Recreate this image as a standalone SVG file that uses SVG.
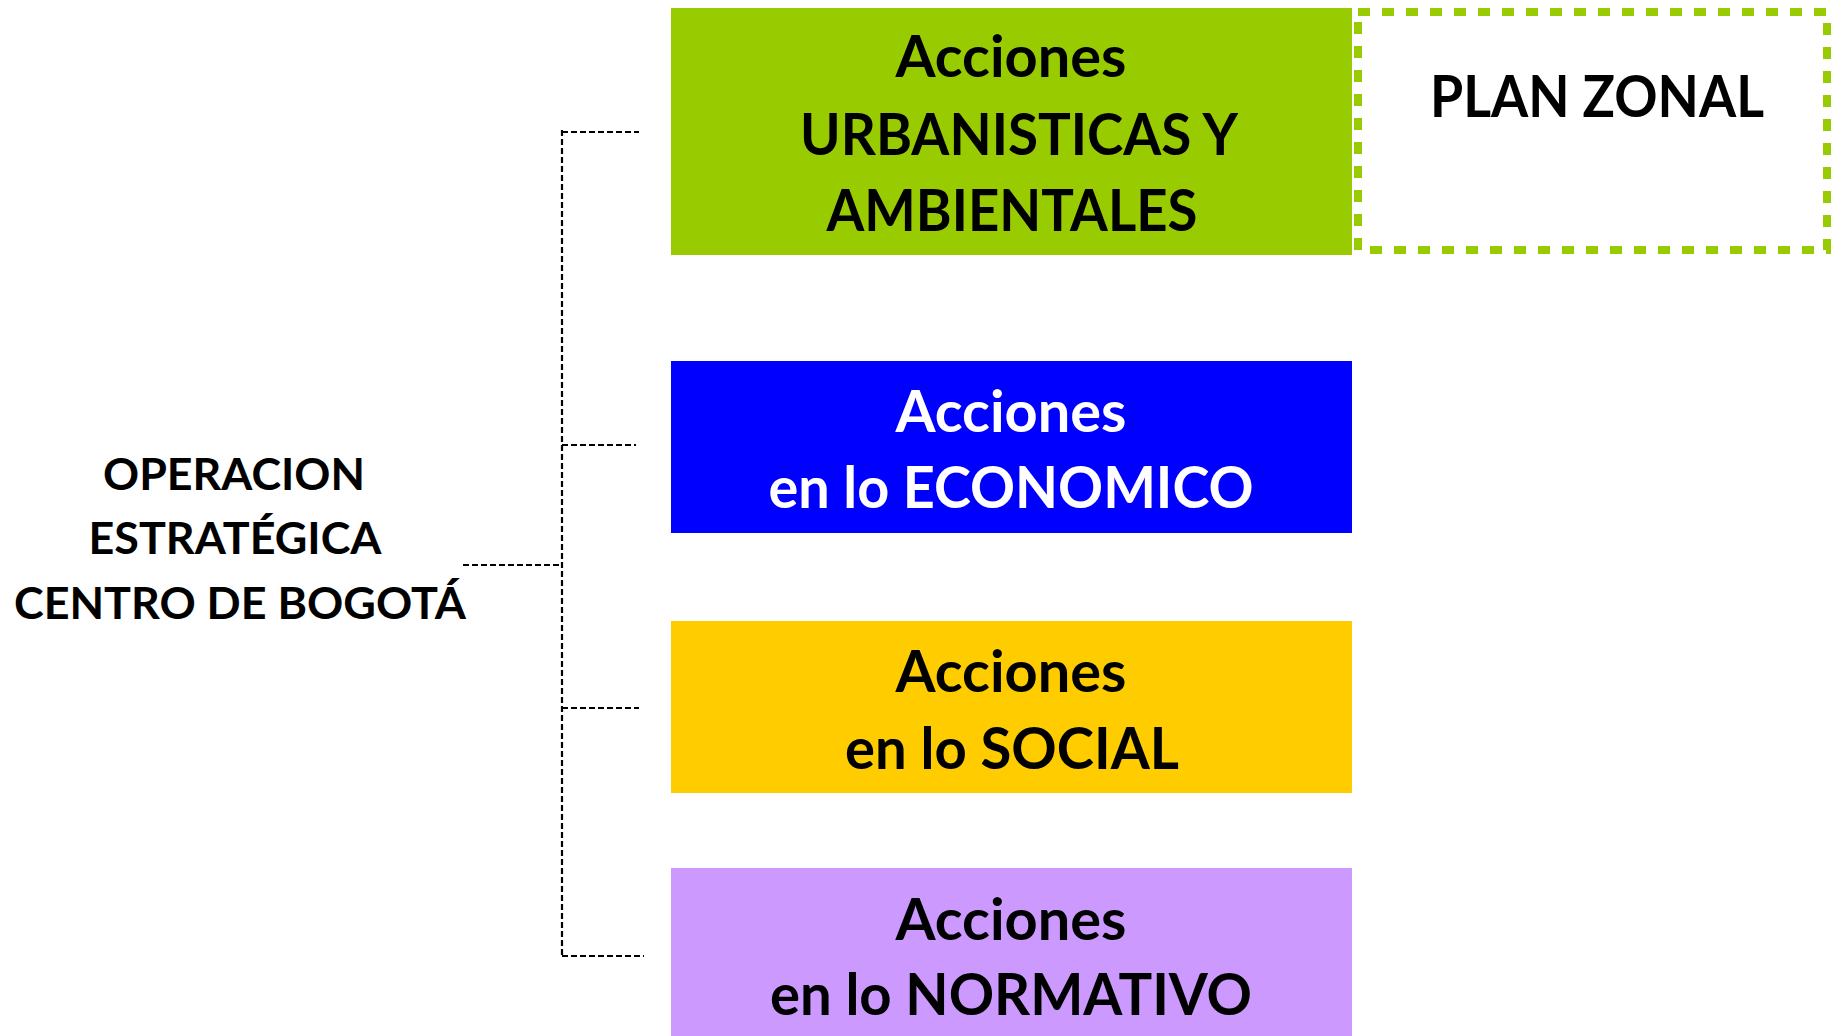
<svg xmlns="http://www.w3.org/2000/svg" width="1837" height="1036" viewBox="0 0 1837 1036">
<style>
.t{font-family:Lato,"Open Sans","Liberation Sans",sans-serif;font-weight:bold;text-anchor:middle;fill:#000}
.big{font-size:58px}
.root{font-size:44px}
.w{fill:#fff}
.conn{fill:none;stroke:#000;stroke-width:2.2;stroke-dasharray:6 3}
</style>
<rect width="1837" height="1036" fill="#fff"/>
<g id="connectors">
<path class="conn" d="M463 565 H562"/>
<path class="conn" d="M562 130 V956"/>
<path class="conn" d="M562 132 H639"/>
<path class="conn" d="M562 445 H636"/>
<path class="conn" d="M562 708 H639"/>
<path class="conn" d="M562 956 H644"/>
</g>
<g id="root">
<text class="t root" x="234" y="490" textLength="262" lengthAdjust="spacingAndGlyphs">OPERACION</text>
<text class="t root" x="235" y="554" textLength="293" lengthAdjust="spacingAndGlyphs">ESTRATÉGICA</text>
<text class="t root" x="240" y="619" textLength="452" lengthAdjust="spacingAndGlyphs">CENTRO DE BOGOTÁ</text>
</g>
<g id="urbanisticas">
<rect x="671" y="8" width="681" height="247" fill="#99CC00"/>
<text class="t big" x="1011" y="77" textLength="231" lengthAdjust="spacingAndGlyphs">Acciones</text>
<text class="t big" x="1019" y="155" textLength="438" lengthAdjust="spacingAndGlyphs">URBANISTICAS Y</text>
<text class="t big" x="1012" y="231" textLength="371" lengthAdjust="spacingAndGlyphs">AMBIENTALES</text>
</g>
<g id="planzonal">
<rect x="1358" y="12" width="469" height="238" fill="none" stroke="#99CC00" stroke-width="8" stroke-dasharray="12 12"/>
<text class="t big" x="1597" y="117" textLength="334" lengthAdjust="spacingAndGlyphs">PLAN ZONAL</text>
</g>
<g id="economico">
<rect x="671" y="361" width="681" height="172" fill="#0000FF"/>
<text class="t big w" x="1011" y="432" textLength="231" lengthAdjust="spacingAndGlyphs">Acciones</text>
<text class="t big w" x="1011" y="508" textLength="485" lengthAdjust="spacingAndGlyphs">en lo ECONOMICO</text>
</g>
<g id="social">
<rect x="671" y="621" width="681" height="172" fill="#FFCC00"/>
<text class="t big" x="1011" y="692" textLength="231" lengthAdjust="spacingAndGlyphs">Acciones</text>
<text class="t big" x="1012" y="769" textLength="334" lengthAdjust="spacingAndGlyphs">en lo SOCIAL</text>
</g>
<g id="normativo">
<rect x="671" y="868" width="681" height="168" fill="#CC99FF"/>
<text class="t big" x="1011" y="940" textLength="231" lengthAdjust="spacingAndGlyphs">Acciones</text>
<text class="t big" x="1011" y="1015" textLength="482" lengthAdjust="spacingAndGlyphs">en lo NORMATIVO</text>
</g>
</svg>
